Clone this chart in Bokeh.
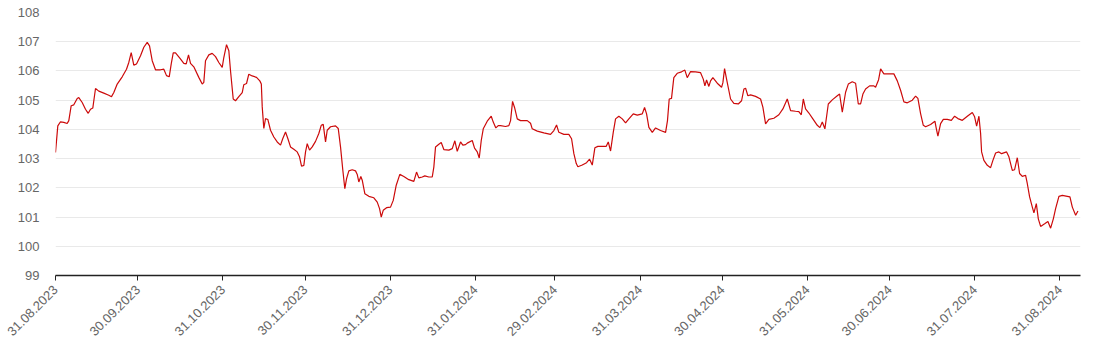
import pandas as pd
from bokeh.plotting import figure
from bokeh.models import FixedTicker, Range1d, DatetimeTickFormatter
from bokeh.embed import file_html
from bokeh.resources import INLINE
from math import pi

start_date = "2023-08-31"
end_date = "2024-09-07 12:00"

# days since 31.08.2023
days = [
    0.0, 0.84, 1.82, 3.02, 4.26, 4.85, 5.72, 6.67, 7.91, 8.49, 9.73, 10.93, 11.92, 12.76, 13.59, 13.96,
    14.58, 15.78, 17.6, 19.42, 20.41, 21.25, 22.49, 24.31, 25.87, 26.71, 27.59, 28.53, 29.52, 30.98,
    32.18, 33.42, 34.26, 35.24, 36.44, 38.27, 39.47, 40.45, 41.44, 42.17, 42.9, 43.73, 45.3, 46.76,
    47.63, 48.47, 49.2, 50.4, 52.22, 53.46, 54.04, 54.66, 55.87, 57.1, 58.31, 59.51, 60.75, 61.33,
    62.32, 63.16, 63.78, 64.76, 65.6, 66.8, 68.04, 68.62, 69.61, 70.44, 71.68, 73.25, 74.45, 75.0,
    75.33, 75.91, 76.53, 77.37, 78.35, 79.56, 80.79, 82.0, 82.83, 83.82, 84.66, 85.64, 86.84, 88.08,
    88.92, 89.65, 90.49, 91.11, 91.73, 92.57, 93.55, 94.75, 95.95, 96.83, 97.56, 98.4, 99.01, 100.22,
    102.04, 103.03, 103.86, 104.7, 105.43, 106.05, 106.89, 108.13, 109.33, 109.95, 110.53, 111.26,
    111.77, 112.72, 114.18, 116.0, 117.24, 118.08, 118.7, 119.42, 120.63, 122.08, 123.07, 124.16,
    125.47, 126.93, 128.75, 130.58, 131.56, 132.4, 133.64, 134.58, 136.04, 137.28, 137.86, 138.48,
    139.69, 140.56, 141.51, 143.33, 144.57, 145.52, 146.39, 147.59, 148.43, 149.42,
    150.04, 151.86, 152.7, 153.68, 154.41, 155.14, 155.87, 157.32, 158.78, 159.51, 160.46, 161.33,
    162.17, 163.99, 165.2, 165.82, 166.55, 167.27, 168.26, 169.46, 171.9, 173.1, 173.72, 175.55,
    177.95, 180.39, 181.6, 182.58, 183.42, 185.24, 187.06, 188.05, 188.89, 189.76, 190.35, 191.95,
    193.51, 194.61, 195.59, 196.54, 197.63, 199.23, 200.69, 201.42, 202.26, 203.24, 204.08, 205.28,
    206.52, 207.73, 208.93, 210.53, 211.99, 213.81, 214.65, 215.38, 216.22, 217.46, 218.66, 220.48,
    222.31, 223.0, 223.63, 224.47, 225.31, 226.55, 228.13, 229.33, 230.2, 231.41, 233.24, 235.06,
    236.04, 236.63, 237.24, 238.08, 238.7, 239.54, 241.14, 242.71, 243.19, 243.8, 244.53, 245.99,
    247.19, 248.8, 250.0, 250.84, 251.46, 252.3, 253.28, 255.1, 256.92, 257.76, 258.75, 259.95,
    261.77, 263.59, 265.05, 266.65, 267.86, 269.68, 270.88, 271.76, 272.49, 273.32, 274.53, 275.98,
    277.59, 278.53, 279.41, 280.36, 281.6, 283.05, 284.88, 285.72, 286.7, 287.9, 288.89, 290.34,
    291.55, 292.53, 293.37, 294.21, 295.19, 296.65, 298.21, 298.83, 299.93, 300.66, 301.86, 305.5,
    306.74, 307.94, 309.15, 310.39, 312.21, 313.41, 314.25, 315.23, 316.22, 317.06, 318.88, 320.45,
    320.96, 321.54, 322.52, 323.51, 324.97, 326.43, 327.63, 328.83, 330.44, 332.26, 334.08, 334.92,
    335.65, 336.49, 337.1, 337.46, 338.3, 339.54, 340.74, 341.58, 342.57, 343.77, 344.75, 346.57,
    347.41, 348.65, 349.49, 350.47, 351.31, 352.29, 353.5, 354.12, 354.96, 355.94, 356.53, 357.4,
    358.13, 358.97, 360.43, 361.63, 362.62, 363.6, 364.43, 365.64, 366.88, 368.7, 369.65, 370.52,
    371.73, 372.57,
]

values = [
    103.21, 104.12, 104.26, 104.24, 104.2, 104.3, 104.81, 104.84, 105.06, 105.09, 104.92, 104.69, 104.55, 104.69, 104.73, 104.98,
    105.4, 105.31, 105.24, 105.17, 105.12, 105.26, 105.55, 105.8, 106.06, 106.29, 106.63, 106.2, 106.24, 106.52,
    106.81, 106.98, 106.86, 106.35, 106.04, 106.04, 106.06, 105.84, 105.8, 106.24, 106.62, 106.62, 106.44, 106.26,
    106.24, 106.55, 106.26, 106.14, 105.78, 105.55, 105.61, 106.35, 106.55, 106.6, 106.49, 106.29, 106.12, 106.46,
    106.9, 106.69, 106.0, 105.04, 104.98, 105.12, 105.26, 105.53, 105.57, 105.89, 105.83, 105.78, 105.66, 105.55,
    104.77, 104.03, 104.37, 104.34, 103.97, 103.74, 103.57, 103.46, 103.69, 103.91, 103.69, 103.4, 103.32, 103.23,
    103.06, 102.74, 102.77, 103.23, 103.51, 103.29, 103.4, 103.59, 103.86, 104.14, 104.17, 103.57, 103.97, 104.09,
    104.12, 104.03, 103.4, 102.6, 101.97, 102.31, 102.58, 102.62, 102.58, 102.46, 102.2, 102.39,
    102.26, 101.8, 101.71, 101.66, 101.51, 101.29, 101.0, 101.23, 101.32, 101.34, 101.57, 102.09,
    102.46, 102.39, 102.28, 102.22, 102.54, 102.34, 102.37, 102.41, 102.37, 102.37, 102.71, 103.4,
    103.49, 103.55, 103.31, 103.29, 103.34, 103.61, 103.25, 103.57, 103.46, 103.48,
    103.53, 103.62, 103.36, 103.23, 103.02, 103.62, 104.02, 104.28, 104.45, 104.25, 104.05, 104.13,
    104.13, 104.1, 104.13, 104.3, 104.96, 104.75, 104.36, 104.3, 104.3, 104.21, 104.02, 103.94,
    103.88, 103.83, 103.96, 104.15, 103.9, 103.83, 103.83, 103.68, 103.17, 102.83, 102.72, 102.78,
    102.86, 102.98, 102.78, 103.37, 103.42, 103.42, 103.42, 103.57, 103.26, 103.9, 104.36, 104.45,
    104.36, 104.22, 104.36, 104.53, 104.49, 104.53, 104.75, 104.53, 104.07, 103.9, 104.05, 103.96,
    103.9, 104.3, 105.04, 105.06, 105.77, 105.92, 105.97, 106.03, 105.77, 105.98, 105.97, 105.94,
    105.72, 105.49, 105.69, 105.47, 105.66, 105.77, 105.58, 105.44, 105.6, 106.08, 105.72, 105.04,
    104.89, 104.87, 104.98, 105.38, 105.41, 105.15, 105.18, 105.13, 105.04, 104.76, 104.19, 104.34,
    104.38, 104.5, 104.7, 105.04, 104.64, 104.62, 104.61, 104.5, 105.04, 104.7, 104.56, 104.36,
    104.14, 104.06, 104.25, 104.02, 104.87, 105.01, 105.15, 105.21, 104.59, 105.27, 105.55, 105.63,
    105.58, 104.87, 104.87, 105.21, 105.38, 105.49, 105.49, 105.44, 105.7, 106.07, 105.9, 105.9,
    105.66, 105.34, 104.94, 104.91, 105.0, 105.14, 105.06, 104.54, 104.14, 104.09, 104.17, 104.28,
    104.03, 103.77, 104.2, 104.34, 104.34, 104.31, 104.45, 104.37, 104.31, 104.45, 104.58, 104.43,
    104.11, 104.45, 103.86, 103.23, 102.94, 102.77, 102.69, 102.94, 103.19, 103.23, 103.17, 103.23,
    103.06, 102.6, 102.62, 103.03, 102.49, 102.39, 102.43, 102.14, 101.69, 101.34, 101.14, 101.46,
    100.94, 100.68, 100.77, 100.85, 100.62, 100.94, 101.29, 101.71, 101.74, 101.71, 101.69, 101.34,
    101.06, 101.21,
]

tick_dates = ["2023-08-31", "2023-09-30", "2023-10-31", "2023-11-30", "2023-12-31", "2024-01-31",
              "2024-02-29", "2024-03-31", "2024-04-30", "2024-05-31", "2024-06-30", "2024-07-31",
              "2024-08-31"]
y_ticks = [99, 100, 101, 102, 103, 104, 105, 106, 107, 108]

t0 = pd.Timestamp(start_date)
x = [t0 + pd.Timedelta(days=d) for d in days]

def ms(ts):
    return pd.Timestamp(ts).value / 1e6

p = figure(width=1100, height=357, x_axis_type="datetime", output_backend="svg",
           toolbar_location=None, x_range=Range1d(ms(start_date), ms(end_date)),
           y_range=Range1d(99, 108), min_border_left=55, min_border_right=20,
           min_border_top=12, min_border_bottom=82)
p.outline_line_color = None
p.background_fill_color = "white"
p.border_fill_color = "white"

p.line(x, values, line_color="#cc0a0a", line_width=1.2)

xa = p.xaxis[0]
xa.ticker = FixedTicker(ticks=[ms(t) for t in tick_dates])
xa.formatter = DatetimeTickFormatter(days="%d.%m.%Y", months="%d.%m.%Y", years="%d.%m.%Y")
xa.major_label_orientation = pi / 4
xa.axis_line_color = "#222222"
xa.axis_line_width = 1.5
xa.major_tick_line_color = "#222222"
xa.major_tick_out = 5
xa.major_tick_in = 0
xa.minor_tick_line_color = None
xa.major_label_text_color = "#666666"
xa.major_label_text_font = "Liberation Sans"
xa.major_label_text_font_size = "13px"
xa.major_label_standoff = 7

ya = p.yaxis[0]
ya.ticker = FixedTicker(ticks=y_ticks)
ya.axis_line_color = None
ya.major_tick_line_color = None
ya.minor_tick_line_color = None
ya.major_label_text_color = "#666666"
ya.major_label_text_font = "Liberation Sans"
ya.major_label_text_font_size = "13px"
ya.major_label_standoff = 10

p.xgrid.grid_line_color = None
p.ygrid.grid_line_color = "#e9e9e9"
p.ygrid.ticker = FixedTicker(ticks=y_ticks)

open("out.html", "w").write(file_html(p, INLINE))
